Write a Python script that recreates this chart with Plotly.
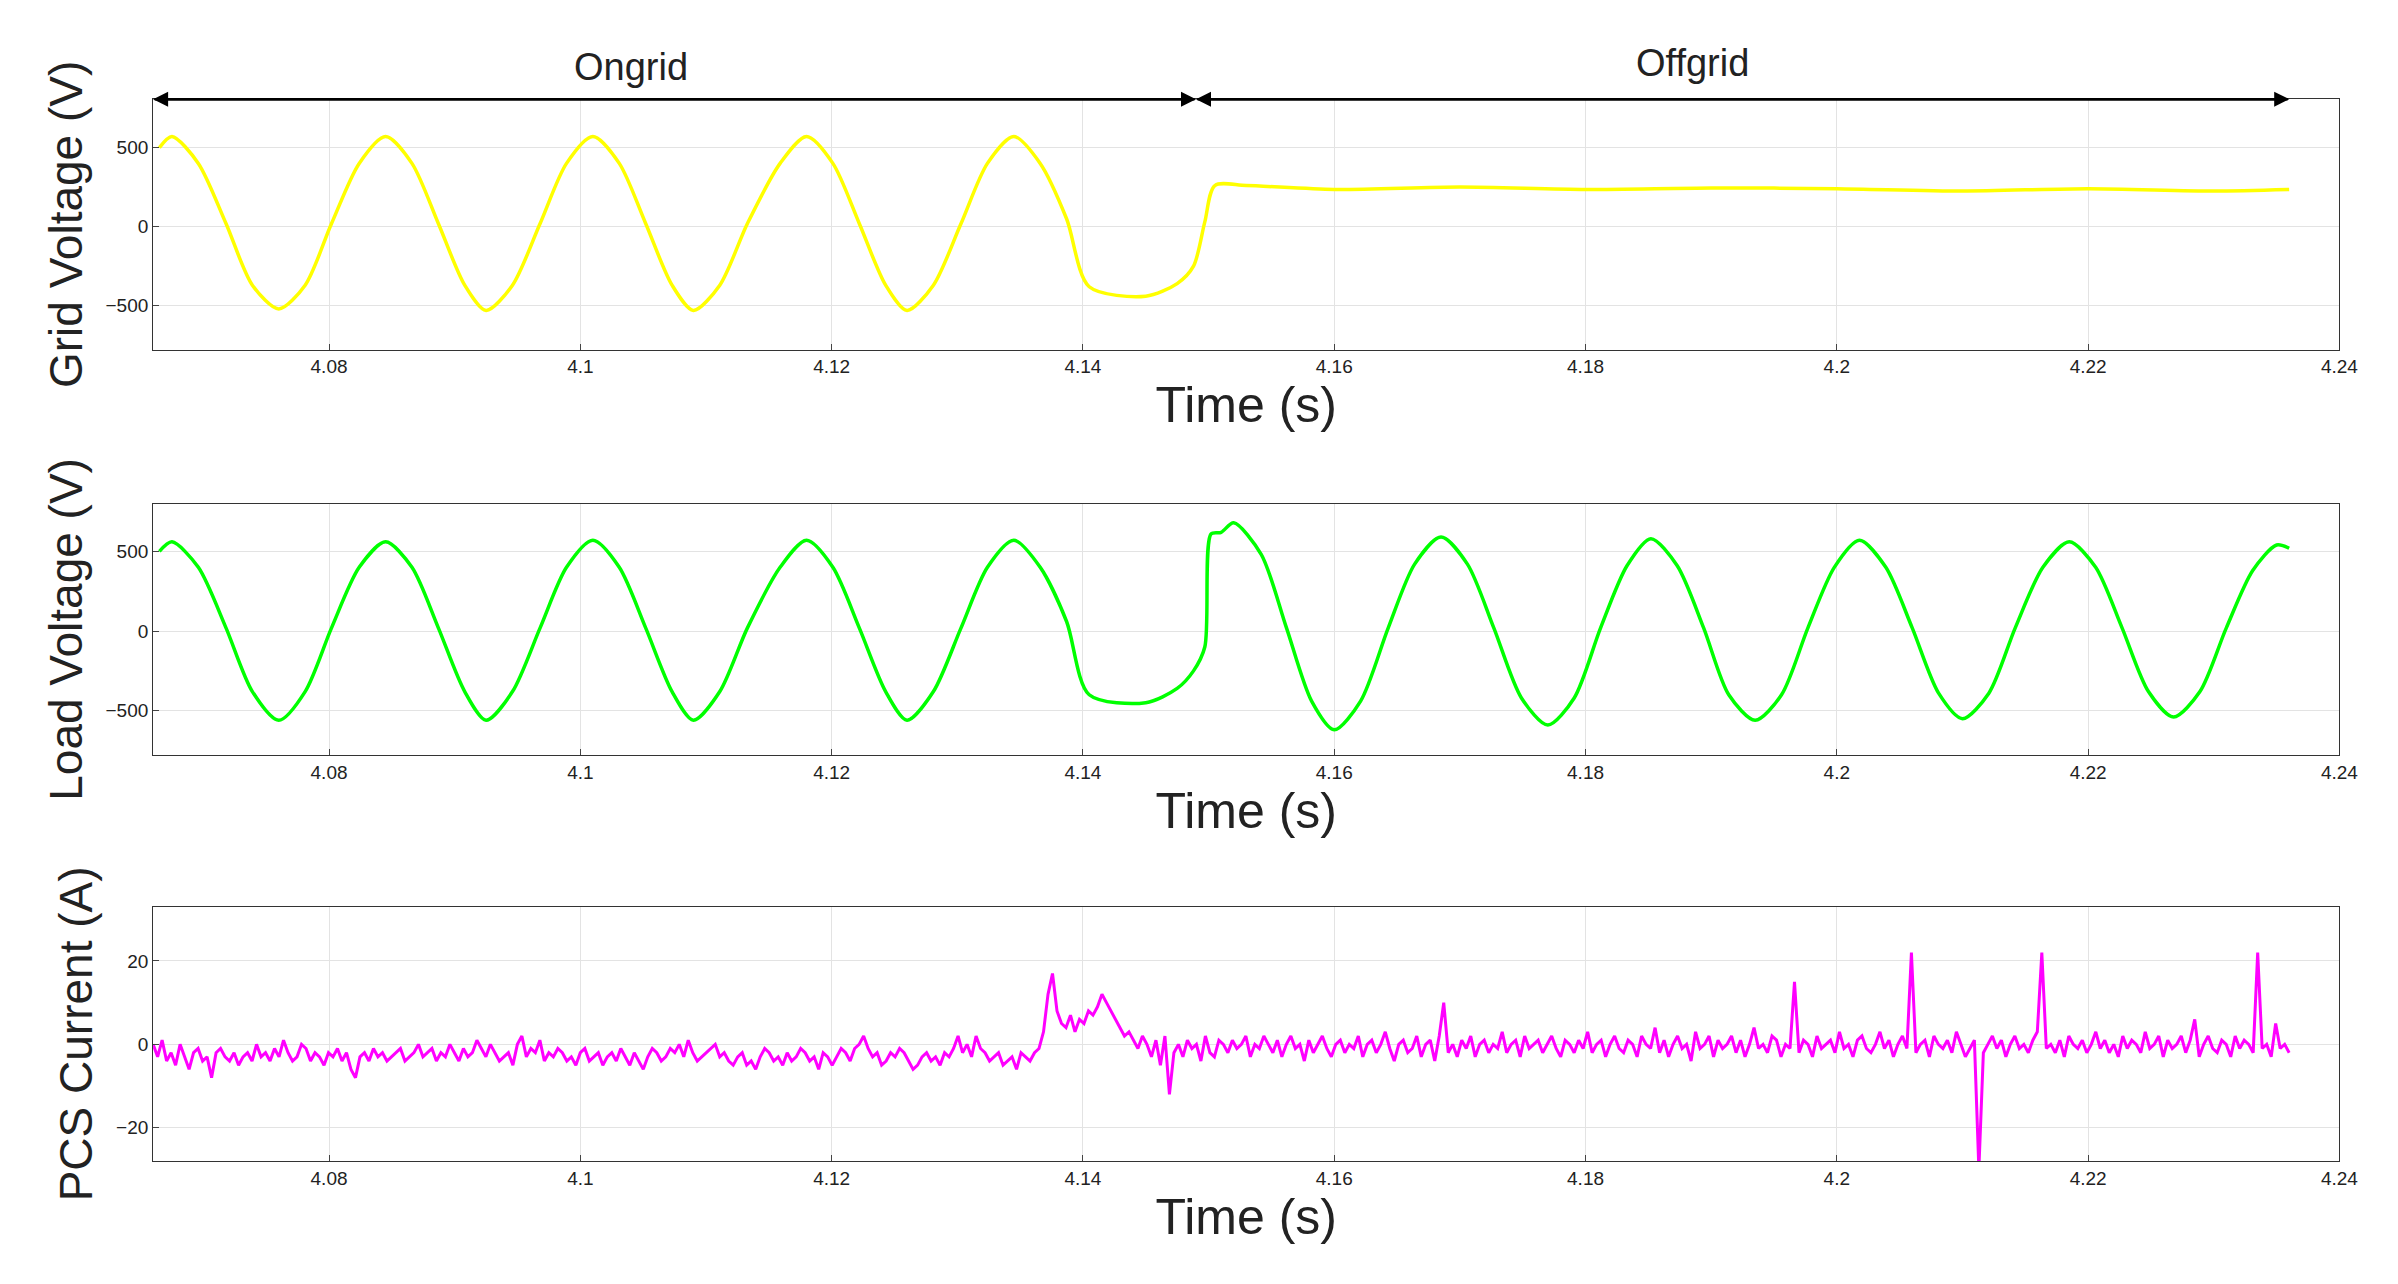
import plotly.graph_objects as go
from plotly.subplots import make_subplots

# Grid voltage key points (time, V)
grid_t = [4.0665,4.0675,4.0696,4.0718,4.0739,4.0760,4.0781,4.0802,4.0824,4.0845,4.0866,4.0887,4.0908,4.0925,4.0946,4.0968,4.0989,4.1010,4.1031,4.1052,4.1073,4.1090,4.1111,4.1133,4.1159,4.1180,4.1201,4.1222,4.1243,4.1260,4.1281,4.1303,4.1324,4.1345,4.1366,4.1387,4.1405,4.1450,4.1475,4.1488,4.1497,4.1505,4.1530,4.1600,4.1700,4.1800,4.1900,4.2000,4.2100,4.2200,4.2300,4.2360]
grid_v = [500,570,400,20,-370,-520,-370,20,400,570,400,20,-370,-530,-370,20,400,570,400,20,-370,-530,-370,20,400,570,400,20,-370,-530,-370,20,400,570,400,50,-380,-440,-360,-250,30,260,260,235,250,235,245,240,225,240,225,235]

# Load voltage key points
load_t = [4.0665,4.0675,4.0696,4.0718,4.0739,4.0760,4.0781,4.0802,4.0824,4.0845,4.0866,4.0887,4.0908,4.0925,4.0946,4.0968,4.0989,4.1010,4.1031,4.1052,4.1073,4.1090,4.1111,4.1133,4.1159,4.1180,4.1201,4.1222,4.1243,4.1260,4.1281,4.1303,4.1324,4.1345,4.1366,4.1387,4.1405,4.1450,4.1475,4.1488,4.1497,4.1502,4.1510,4.1520,4.1542,4.1562,4.1582,4.1600,4.1621,4.1643,4.1664,4.1685,4.1706,4.1727,4.1749,4.1770,4.1791,4.1812,4.1833,4.1852,4.1873,4.1894,4.1914,4.1935,4.1956,4.1977,4.1998,4.2018,4.2039,4.2060,4.2081,4.2100,4.2121,4.2142,4.2164,4.2185,4.2206,4.2227,4.2248,4.2268,4.2289,4.2310,4.2331,4.2350,4.2360]
load_v = [500,560,400,20,-380,-560,-380,20,400,560,400,20,-380,-560,-380,20,400,570,400,20,-380,-560,-380,20,400,570,400,20,-380,-560,-380,20,400,570,400,60,-400,-450,-360,-250,-100,610,620,680,480,20,-440,-620,-440,20,420,590,420,20,-420,-590,-420,20,410,580,410,20,-400,-560,-400,20,400,570,400,20,-390,-550,-390,20,400,560,400,20,-380,-540,-380,20,380,540,520]

# PCS current samples, evenly spaced from 4.066 to 4.236
pcs_i = [0,-3,1,-4,-2,-5,0,-3,-6,-2,-1,-4,-3,-8,-2,-1,-3,-4,-2,-5,-3,-2,-4,0,-3,-2,-4,-1,-3,1,-2,-4,-3,0,-1,-4,-2,-3,-5,-2,
 -3,-1,-4,-2,-6,-8,-3,-2,-4,-1,-3,-2,-4,-3,-2,-1,-4,-3,-2,0,-3,-2,-1,-4,-2,-3,0,-2,-4,-1,
 -3,-2,1,-1,-3,0,-2,-4,-3,-2,-5,0,2,-3,-1,-2,1,-4,-2,-3,-1,-2,-4,-3,-5,-2,-1,-4,-3,-2,
 -5,-3,-2,-4,-1,-3,-5,-2,-4,-6,-3,-1,-2,-4,-3,-1,-2,0,-3,1,-2,-4,-3,-2,-1,0,-3,-2,-4,-5,
 -3,-2,-5,-4,-6,-3,-1,-2,-4,-3,-5,-2,-4,-3,-1,-2,-4,-3,-6,-2,-3,-5,-3,-1,-2,-4,-1,0,2,-1,
 -3,-2,-5,-4,-2,-3,-1,-2,-4,-6,-5,-3,-2,-4,-3,-5,-2,-3,-1,2,-2,0,-3,2,-1,-2,-4,-3,-2,-5,
 -4,-3,-6,-2,-3,-4,-2,-1,3,12,17,8,5,4,7,3,6,5,8,7,9,12,10,8,6,4,2,3,1,-1,
 2,0,-3,1,-5,2,-12,-2,0,-3,1,-1,0,-4,2,-2,-3,1,0,-2,1,-1,0,2,-3,0,-1,2,0,-2,
 1,-3,0,2,-1,0,-4,1,-2,0,2,-1,-3,0,1,-2,0,-1,2,-3,0,1,-2,0,3,-1,-4,0,1,-2,
 -1,2,-3,0,1,-4,2,10,-2,0,-3,1,-1,2,-3,0,1,-2,0,-1,3,-2,0,1,-3,2,-1,0,1,-2,
 0,2,-1,-3,1,0,-2,1,-1,3,-2,0,1,-3,0,2,-1,-2,1,0,-3,2,0,-1,4,-2,1,-3,0,2,
 -1,0,-4,3,-1,0,2,-3,1,-1,0,2,-2,1,-3,0,4,-1,0,-2,2,1,-3,0,-1,15,-2,1,0,-3,
 2,-1,0,1,-2,3,-1,0,-3,1,2,-1,-2,0,3,-1,1,-3,0,2,-1,22,-2,0,1,-3,2,0,-1,1,
 -2,3,0,-3,-1,1,-30,-2,0,2,-1,1,-3,0,2,-1,0,-2,1,3,22,-1,0,-2,1,-3,2,0,-1,1,
 -2,0,3,-1,1,-2,0,-3,2,-1,1,0,-2,3,-1,0,2,-3,1,-1,0,2,-2,1,6,-3,0,2,-1,-2,
 1,0,-3,2,-1,1,0,-2,22,-1,0,-3,5,-1,0,-2]
pcs_start, pcs_end = 4.066, 4.236
pcs_t = [pcs_start + k * (pcs_end - pcs_start) / (len(pcs_i) - 1) for k in range(len(pcs_i))]

fig = make_subplots(rows=3, cols=1)
fig.add_trace(go.Scatter(x=grid_t, y=grid_v, mode="lines", line=dict(color="#ffff00", width=3.5, shape="spline", smoothing=0.8)), 1, 1)
fig.add_trace(go.Scatter(x=load_t, y=load_v, mode="lines", line=dict(color="#00ff00", width=3.5, shape="spline", smoothing=0.8)), 2, 1)
fig.add_trace(go.Scatter(x=pcs_t, y=pcs_i, mode="lines", line=dict(color="#ff00ff", width=3)), 3, 1)

domains = [[0.734, 0.929], [0.418, 0.614], [0.102, 0.3]]
ytitles = ["Grid Voltage (V)", "Load Voltage (V)", "PCS Current (A)"]
yranges = [[-777, 806], [-780, 800], [-28, 33]]
ytick = [[-500, 0, 500], [-500, 0, 500], [-20, 0, 20]]
for i in range(3):
    n = "" if i == 0 else str(i + 1)
    fig.layout["xaxis" + n].update(domain=[0.061, 0.98], range=[4.066, 4.24],
        tickvals=[4.08,4.1,4.12,4.14,4.16,4.18,4.2,4.22,4.24],
        ticktext=["4.08","4.1","4.12","4.14","4.16","4.18","4.2","4.22","4.24"],
        title=dict(text="Time (s)", font=dict(size=50), standoff=6),
        showline=True, mirror=True, linecolor="#333", gridcolor="#e3e3e3",
        ticks="inside", ticklen=6, tickfont=dict(size=19), zeroline=False)
    fig.layout["yaxis" + n].update(domain=domains[i], range=yranges[i], tickvals=ytick[i],
        title=dict(text=ytitles[i], font=dict(size=46), standoff=8),
        showline=True, mirror=True, linecolor="#333", gridcolor="#e3e3e3",
        ticks="inside", ticklen=6, tickfont=dict(size=19), zeroline=False)

for a, b in [(4.066, 4.149), (4.149, 4.066), (4.149, 4.236), (4.236, 4.149)]:
    fig.add_annotation(x=a, y=806, ax=b, ay=806, xref="x", yref="y", axref="x", ayref="y",
                       showarrow=True, arrowhead=2, arrowsize=1.2, arrowwidth=2.5, arrowcolor="black", text="")
fig.add_annotation(x=4.104, y=806, yshift=32, xref="x", yref="y", text="Ongrid", showarrow=False, font=dict(size=38))
fig.add_annotation(x=4.1885, y=806, yshift=36, xref="x", yref="y", text="Offgrid", showarrow=False, font=dict(size=38))

fig.update_layout(width=2398, height=1284, showlegend=False, plot_bgcolor="white", paper_bgcolor="white",
                  margin=dict(l=0, r=0, t=0, b=0), font=dict(family="Liberation Sans", color="#222"))
fig.write_html("out.html")
